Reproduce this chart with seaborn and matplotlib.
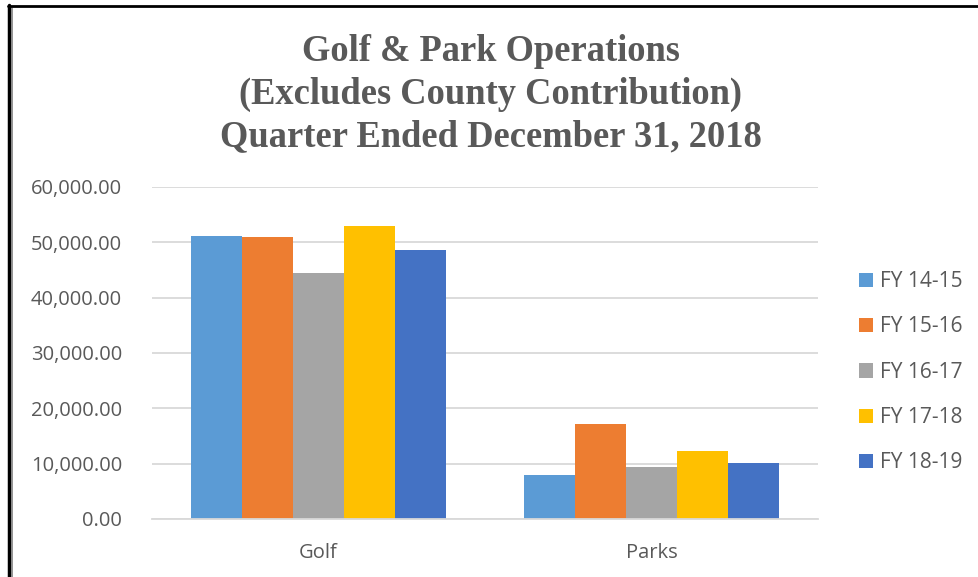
import matplotlib
matplotlib.use("Agg")
import matplotlib.pyplot as plt
import seaborn as sns
import pandas as pd
from matplotlib.lines import Line2D
from matplotlib.patches import Patch

categories = ["Golf", "Parks"]
series = ["FY 14-15", "FY 15-16", "FY 16-17", "FY 17-18", "FY 18-19"]
golf_values = [51150, 50950, 44450, 52950, 48600]
parks_values = [7900, 17100, 9350, 12250, 10050]
colors = ["#5B9BD5", "#ED7D31", "#A5A5A5", "#FFC000", "#4472C4"]
yticks = [0, 10000, 20000, 30000, 40000, 50000, 60000]
title = "Golf & Park Operations\n(Excludes County Contribution)\nQuarter Ended December 31, 2018"

rows = []
for s, g, p in zip(series, golf_values, parks_values):
    rows.append({"cat": "Golf", "series": s, "value": g})
    rows.append({"cat": "Parks", "series": s, "value": p})
df = pd.DataFrame(rows)

sns.set_theme(style="white")
plt.rcParams["font.family"] = ["Open Sans", "DejaVu Sans"]

fig = plt.figure(figsize=(9.79, 5.77), dpi=100)
ax = fig.add_axes([152/979, 1 - 519/577, (818-152)/979, (519-187)/577])

sns.barplot(data=df, x="cat", y="value", hue="series", order=categories,
            hue_order=series, palette=colors, width=0.766, saturation=1,
            ax=ax, legend=False, linewidth=0)

ax.set_ylim(0, 60000)
ax.set_yticks(yticks)
ax.set_yticklabels([f"{v:,.2f}" for v in yticks], color="#595959", fontsize=14.5)
ax.tick_params(axis="x", colors="#595959", labelsize=14.5, length=0, pad=17)
ax.tick_params(axis="y", length=0, pad=21.6)
ax.set_xlabel("")
ax.set_ylabel("")
ax.grid(axis="y", color="#D9D9D9", linewidth=1.3)
ax.set_axisbelow(True)
for sp in ["top", "right", "left"]:
    ax.spines[sp].set_visible(False)
ax.spines["bottom"].set_color("#D9D9D9")
ax.spines["bottom"].set_linewidth(1.3)
ax.set_xlim(-0.5, 1.5)

fig.text(491/979, 1 - 94/577, title, ha="center", va="center",
         family=["Liberation Serif", "DejaVu Serif"], fontweight="bold",
         fontsize=26.3, color="#595959", linespacing=1.27)

handles = [Patch(facecolor=c, edgecolor="none") for c in colors]
leg = fig.legend(handles, series, loc="upper left",
                 bbox_to_anchor=(859/979, 1 - 271/577), frameon=False,
                 fontsize=15, labelspacing=1.17, handlelength=0.67,
                 handleheight=0.67, handletextpad=0.33, borderpad=0,
                 borderaxespad=0)
for t in leg.get_texts():
    t.set_color("#595959")

# outer frame (left and top edges)
fig.add_artist(Line2D([9/979, 9/979], [0, 1 - 5/577], transform=fig.transFigure,
                      color="black", linewidth=2.5))
fig.add_artist(Line2D([11.5/979, 11.5/979], [0, 1 - 8/577], transform=fig.transFigure,
                      color="#808080", linewidth=1.2))
fig.add_artist(Line2D([8/979, 1], [1 - 6/577, 1 - 6/577], transform=fig.transFigure,
                      color="black", linewidth=2))

fig.savefig("out.png", dpi=100)
